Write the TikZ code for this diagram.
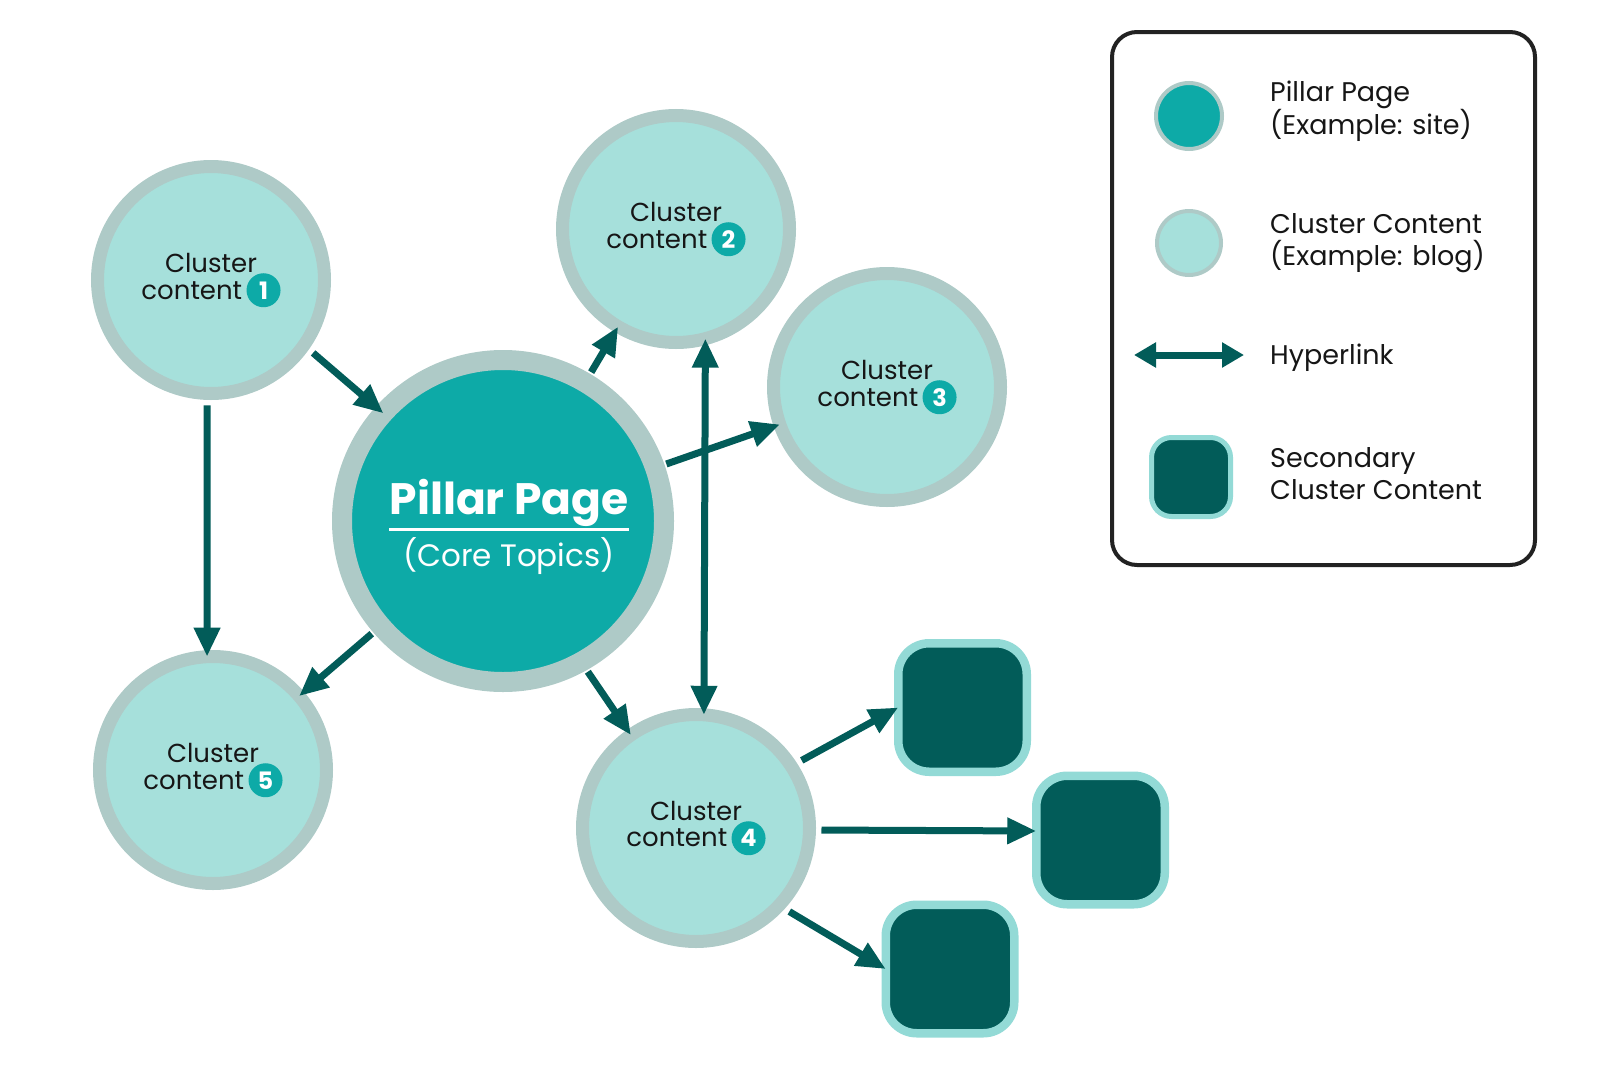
\documentclass[tikz,border=0pt]{standalone}
\usepackage{fontspec}
\setmainfont{Poppins}
\usetikzlibrary{arrows.meta}
\definecolor{ringgray}{HTML}{AECAC7}
\definecolor{clusterfill}{HTML}{A6E0DB}
\definecolor{pillarfill}{HTML}{0DAAA7}
\definecolor{arrowteal}{HTML}{025C59}
\definecolor{secring}{HTML}{93DAD6}
\definecolor{inkblack}{HTML}{161616}
\definecolor{boxline}{HTML}{222222}
\tikzset{clus/.style={circle,fill=clusterfill,draw=ringgray,line width=13pt,minimum size=227pt,
           inner sep=0pt,outer sep=0pt,align=center,text=inkblack,font=\fontsize{26}{25}\selectfont},
         pil/.style={circle,fill=pillarfill,draw=ringgray,line width=20pt,minimum size=322pt,inner sep=0pt,outer sep=0pt},
         sec/.style={rectangle,rounded corners=31pt,fill=arrowteal,draw=secring,line width=8.5pt,
           minimum size=128.5pt,inner sep=0pt,outer sep=0pt},
  badge/.style={circle,fill=pillarfill,draw=none,line width=0pt,minimum size=34pt,inner sep=0pt,outer sep=0pt,
           text=white,font=\fontsize{24}{24}\selectfont\bfseries},
  link/.style={line width=7pt,draw=arrowteal,-{Triangle[length=29pt,width=25pt]},shorten <=12pt},
  dlink/.style={line width=7pt,draw=arrowteal,{Triangle[length=29pt,width=25pt]}-{Triangle[length=29pt,width=25pt]}},
  klink/.style={line width=7pt,draw=arrowteal,{Triangle[length=22pt,width=24pt]}-{Triangle[length=22pt,width=24pt]}},
  keytxt/.style={anchor=west,align=left,inner sep=0pt,text=inkblack,font=\fontsize{27}{32}\selectfont}
         }
\newcommand{\numbadge}[1]{\tikz[baseline=(nb.base)]\node[badge] (nb) {#1};}

\begin{document}
\begin{tikzpicture}[x=1pt,y=-1pt]
\useasboundingbox (0,0) rectangle (1600,1068);

\node[pil] (pp) at (503,521) {};
\node[anchor=base,inner sep=0pt,text=white,font=\fontsize{44}{44}\selectfont\bfseries] (pptitle) at (509,514) {Pillar Page};
\draw[white,line width=3pt] ([yshift=-15pt]pptitle.base west) -- ([yshift=-15pt]pptitle.base east);
\node[anchor=base,inner sep=0pt,text=white,font=\fontsize{31}{31}\selectfont] (ppsub) at (509,566) {(Core Topics)};

\foreach \i/\x/\y in {1/211/280,2/676/229,3/887/387,4/696/828,5/213/770}
  \node[clus] (c\i) at (\x,\y) {Cluster\\content\,\numbadge{\i}};

\foreach \i/\x/\y in {1/962.5/707.5,2/1100.5/840,3/950/969}
  \node[sec] (s\i) at (\x,\y) {};

\draw[link] (c1.-35) -- (pp.138);
\draw[link] (c1.-92) -- (c5.93);
\draw[link] (pp) -- (c5);
\draw[link] (pp) -- (c2);
\draw[link] (pp) -- (c3);
\draw[dlink] (c2.-75) -- (c4.86);
\draw[link] (pp.-61) -- (c4.125);
\draw[link] (c4.33) -- (s1.west);
\draw[link] (c4.-1) -- (s2.172);
\draw[link] (c4.-43) -- (s3.west);

\draw[rounded corners=25pt,line width=4pt,draw=boxline] (1112,32) rectangle (1535,565);
\node[circle,fill=pillarfill,draw=ringgray,line width=4pt,minimum size=66pt] (kp) at (1189,116) {};
\node[circle,fill=clusterfill,draw=ringgray,line width=4pt,minimum size=64pt] (kc) at (1189,243) {};
\coordinate (ka) at (1134,355);
\coordinate (kb) at (1244,355);
\draw[klink] (ka) -- (kb);
\node[sec,minimum size=79pt,line width=5pt,rounded corners=20pt] (ks) at (1191,477) {};
\node[keytxt] (kpt) at (1270,111) {Pillar Page\\(Example: site)};
\node[keytxt] (kct) at (1270,243) {Cluster Content\\(Example: blog)};
\node[keytxt] (kat) at (1270,358) {Hyperlink};
\node[keytxt] (kst) at (1270,474) {Secondary\\Cluster Content};
\end{tikzpicture}
\end{document}
